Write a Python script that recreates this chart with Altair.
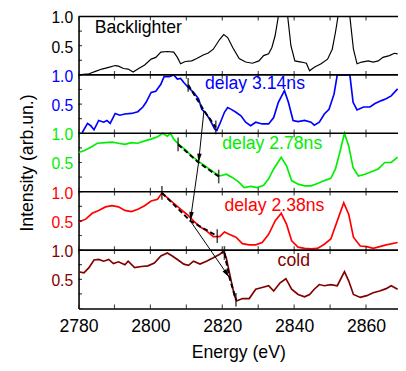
import math
import altair as alt
import pandas as pd

# ---------------- data ----------------
# Backlighter (top panel)
bl_e = [2780.0, 2782.9, 2784.7, 2786.5, 2788.4, 2790.2, 2791.1, 2792.5, 2793.8, 2795.2, 2796.5, 2798.4,
        2800.2, 2801.5, 2802.9, 2804.7, 2806.5, 2807.5, 2808.4, 2809.7, 2811.5, 2812.9, 2814.7, 2816.1,
        2817.5, 2819.3, 2820.4, 2821.5, 2822.9, 2824.7, 2826.5, 2828.4, 2830.2, 2831.5, 2832.9, 2833.8,
        2834.7, 2835.6, 2837.0, 2838.2, 2839.1, 2840.2, 2842.0, 2843.4, 2844.3, 2845.6, 2847.5, 2849.3,
        2850.6, 2851.5, 2852.2, 2853.8, 2855.5, 2856.5, 2857.5, 2858.8, 2860.6, 2862.0, 2863.4, 2864.7,
        2866.5, 2867.9, 2868.8]
bl_v = [0.00, 0.02, 0.06, 0.10, 0.13, 0.16, 0.15, 0.11, 0.10, 0.05, 0.10, 0.17,
        0.27, 0.30, 0.39, 0.40, 0.39, 0.30, 0.19, 0.23, 0.24, 0.28, 0.34, 0.375,
        0.44, 0.61, 0.69, 0.64, 0.47, 0.28, 0.22, 0.20, 0.24, 0.33, 0.36, 0.47,
        0.67, 1.00, 1.90, 1.00, 0.50, 0.24, 0.22, 0.20, 0.07, 0.13, 0.19, 0.27,
        0.44, 0.73, 1.00, 2.00, 1.00, 0.44, 0.19, 0.22, 0.24, 0.22, 0.24, 0.30,
        0.33, 0.37, 0.36]

# delay 3.14 ns
d314_e = [2781.0, 2782.5, 2783.4, 2784.3, 2785.6, 2787.0, 2787.9, 2788.8, 2790.2, 2791.5, 2792.9, 2794.7,
          2796.5, 2797.9, 2798.8, 2800.2, 2801.5, 2802.9, 2803.8, 2805.2, 2806.5, 2807.5, 2808.4, 2809.3,
          2810.6, 2812.0, 2813.4, 2814.3, 2815.2, 2816.5, 2817.9, 2818.5, 2819.3, 2820.6, 2821.5, 2822.5,
          2823.8, 2825.2, 2826.5, 2827.9, 2829.3, 2831.1, 2832.9, 2834.3, 2835.6, 2837.3, 2838.4, 2839.7,
          2841.1, 2842.9, 2844.7, 2845.6, 2847.0, 2848.4, 2849.7, 2851.1, 2852.0, 2853.5, 2855.5, 2856.4,
          2857.5, 2859.3, 2861.1, 2862.5, 2864.3, 2865.6, 2867.0, 2868.8]
d314_v = [0.01, 0.17, 0.13, 0.06, 0.22, 0.19, 0.22, 0.17, 0.34, 0.31, 0.33, 0.34,
          0.37, 0.45, 0.53, 0.70, 0.72, 0.84, 0.97, 0.97, 1.00, 0.93, 0.94, 0.87,
          0.78, 0.70, 0.59, 0.41, 0.36, 0.24, 0.07, 0.05, 0.16, 0.36, 0.44, 0.41,
          0.36, 0.30, 0.19, 0.13, 0.19, 0.16, 0.16, 0.27, 0.53, 0.73, 0.53, 0.22,
          0.20, 0.22, 0.19, 0.14, 0.19, 0.33, 0.41, 0.67, 1.00, 1.90, 1.00, 0.53,
          0.40, 0.45, 0.45, 0.51, 0.56, 0.59, 0.64, 0.76]

# delay 2.78 ns
d278_e = [2780.0, 2781.5, 2783.4, 2785.2, 2787.5, 2789.3, 2791.1, 2792.9, 2794.7, 2796.5, 2798.4, 2800.2,
          2802.0, 2803.4, 2804.7, 2805.6, 2806.5, 2807.9, 2809.7, 2811.5, 2813.4, 2815.2, 2817.5, 2819.3,
          2821.1, 2822.9, 2824.7, 2826.1, 2827.9, 2829.7, 2831.5, 2832.9, 2834.3, 2836.4, 2837.9, 2839.3,
          2841.1, 2842.9, 2844.7, 2846.5, 2848.4, 2850.2, 2851.5, 2852.7, 2854.0, 2855.2, 2856.4, 2857.9,
          2859.7, 2861.5, 2863.4, 2865.2, 2867.0, 2868.8]
d278_v = [0.67, 0.70, 0.76, 0.83, 0.84, 0.85, 0.83, 0.81, 0.84, 0.83, 0.87, 0.90,
          0.94, 1.00, 0.95, 1.00, 0.90, 0.81, 0.72, 0.61, 0.52, 0.44, 0.34, 0.27,
          0.30, 0.24, 0.16, 0.07, 0.09, 0.07, 0.11, 0.22, 0.39, 0.59, 0.44, 0.19,
          0.13, 0.10, 0.10, 0.14, 0.19, 0.23, 0.39, 0.67, 1.00, 0.78, 0.41, 0.27,
          0.30, 0.34, 0.39, 0.50, 0.50, 0.59]

# delay 2.38 ns
d238_e = [2780.0, 2782.0, 2783.8, 2785.6, 2787.5, 2789.3, 2791.1, 2792.9, 2794.7, 2796.5, 2798.4, 2800.2,
          2802.0, 2803.2, 2804.7, 2806.5, 2808.4, 2810.2, 2812.0, 2813.8, 2815.6, 2817.5, 2819.3, 2820.6,
          2821.9, 2823.8, 2825.6, 2827.5, 2829.3, 2831.1, 2832.9, 2834.7, 2836.4, 2837.9, 2839.3, 2841.1,
          2842.9, 2844.7, 2846.5, 2848.4, 2850.2, 2852.0, 2853.8, 2855.2, 2856.5, 2858.4, 2860.2, 2862.0,
          2863.8, 2865.6, 2868.8]
d238_v = [0.48, 0.53, 0.63, 0.68, 0.74, 0.76, 0.74, 0.68, 0.66, 0.70, 0.76, 0.84,
          0.87, 0.98, 0.90, 0.80, 0.70, 0.61, 0.50, 0.40, 0.33, 0.23, 0.23, 0.31,
          0.27, 0.22, 0.11, 0.09, 0.09, 0.13, 0.27, 0.50, 0.63, 0.44, 0.16, 0.05,
          0.03, 0.02, 0.03, 0.10, 0.19, 0.50, 0.81, 0.61, 0.22, 0.07, 0.06, 0.03,
          0.06, 0.09, 0.13]

# cold
cold_e = [2780.0, 2781.5, 2782.9, 2784.3, 2785.6, 2787.0, 2788.4, 2789.7, 2791.1, 2792.9, 2793.8, 2795.6,
          2797.5, 2799.3, 2801.1, 2802.9, 2804.7, 2806.1, 2807.5, 2809.3, 2810.6, 2812.0, 2813.8, 2815.6,
          2817.5, 2819.3, 2820.4, 2821.1, 2822.0, 2822.7, 2823.4, 2824.0, 2825.6, 2827.5, 2829.3, 2831.1,
          2832.9, 2834.3, 2836.1, 2837.7, 2839.3, 2841.1, 2842.9, 2844.3, 2845.6, 2847.0, 2848.4, 2850.2,
          2852.0, 2854.0, 2855.2, 2856.5, 2858.4, 2860.2, 2862.0, 2863.8, 2865.6, 2867.0, 2868.8]
cold_v = [0.63, 0.61, 0.70, 0.83, 0.84, 0.81, 0.84, 0.77, 0.80, 0.75, 0.81, 0.70,
          0.72, 0.73, 0.78, 0.90, 0.95, 0.90, 0.84, 0.76, 0.74, 0.81, 0.76, 0.81,
          0.87, 0.93, 0.98, 0.87, 0.61, 0.41, 0.22, 0.13, 0.17, 0.17, 0.33, 0.36,
          0.39, 0.30, 0.44, 0.51, 0.33, 0.24, 0.20, 0.24, 0.33, 0.41, 0.39, 0.41,
          0.39, 0.63, 0.47, 0.24, 0.19, 0.22, 0.27, 0.30, 0.34, 0.39, 0.33]

series_names = ["Backlighter", "delay 3.14ns", "delay 2.78ns", "delay 2.38ns", "cold"]
series_e = [bl_e, d314_e, d278_e, d238_e, cold_e]
series_v = [bl_v, d314_v, d278_v, d238_v, cold_v]
series_offset = [4, 3, 2, 1, 0]
series_color = ["#000000", "#0000ff", "#00ee00", "#ff0000", "#800000"]
series_width = [1.2, 1.7, 1.7, 1.7, 1.7]

# label positions (energy, value within panel)
label_e = [2784.5, 2815.2, 2820.0, 2820.6, 2835.4]
label_v = [0.80, 0.84, 0.81, 0.76, 0.81]

# absorption-edge fits (panel offset, start, middle, end)
fit_offset = [3, 2, 1, 0]
fit_e0 = [2810.5, 2807.7, 2803.2, 2820.6]
fit_v0 = [0.83, 0.81, 0.98, 0.95]
fit_em = [2814.9, 2813.4, 2811.1, 2822.0]
fit_vm = [0.39, 0.50, 0.50, 0.53]
fit_e1 = [2818.2, 2819.0, 2818.6, 2823.8]
fit_v1 = [0.10, 0.26, 0.24, 0.15]

# arrow chain through edge midpoints: cold -> 2.38 -> 2.78 -> 3.14
arrow_order = [3, 2, 1, 0]   # indices into fit lists

x_ticks = [2780, 2790, 2800, 2810, 2820, 2830, 2840, 2850, 2860]
x_labels = [2780, 2800, 2820, 2840, 2860]

# ---------------- layout / style ----------------
E_MIN, E_MAX = 2780, 2868.9
W, H = 326, 298
FONT = "Liberation Sans"

xscale = alt.Scale(domain=[E_MIN, E_MAX], nice=False, zero=False)
yscale = alt.Scale(domain=[0, 5], nice=False, zero=False)

label_color = {
    "condition": [
        {"test": "datum.value > 4.1", "value": series_color[0]},
        {"test": "datum.value > 3.1", "value": series_color[1]},
        {"test": "datum.value > 2.1", "value": series_color[2]},
        {"test": "datum.value > 1.1", "value": series_color[3]},
    ],
    "value": series_color[4],
}

X = alt.X("E:Q", scale=xscale, axis=alt.Axis(
    title="Energy (eV)", values=x_labels, format="d", grid=False, ticks=False, tickSize=0,
    domain=True, domainColor="black", domainWidth=1.6, labelFlush=False,
    labelFont=FONT, labelFontSize=18, labelColor="black", labelPadding=9,
    titleFont=FONT, titleFontSize=18, titleFontWeight="normal", titleColor="black",
    titleY=45, titleBaseline="middle"))
Y = alt.Y("Y:Q", scale=yscale, axis=alt.Axis(
    title="Intensity (arb.un.)", values=[0.5, 1, 1.5, 2, 2.5, 3, 3.5, 4, 4.5, 5],
    labelExpr="datum.value % 1 == 0 ? '1.0' : '0.5'", labelColor=label_color,
    grid=False, ticks=False, tickSize=0, domain=True, domainColor="black", domainWidth=1.6,
    labelFont=FONT, labelFontSize=16, labelPadding=6, labelOffset=1.5, labelFlush=False,
    titleFont=FONT, titleFontSize=18, titleFontWeight="normal", titleColor="black",
    titleX=-52, titleBaseline="middle"))

layers = []

# spectra
for name, es, vs, off, col, sw in zip(series_names, series_e, series_v, series_offset,
                                      series_color, series_width):
    df = pd.DataFrame({"E": es, "v": vs})
    df["off"] = off
    layers.append(
        alt.Chart(df).transform_calculate(Y="datum.off + min(datum.v, 1)")
        .mark_line(color=col, strokeWidth=sw, clip=True, interpolate="linear")
        .encode(x=X, y=Y)
    )

# panel separators and top border
sep_df = pd.DataFrame({"Y": [1, 2, 3, 4, 5]})
layers.append(alt.Chart(sep_df).mark_rule(color="black", strokeWidth=1.6).encode(y=Y))

# inward ticks on the energy axis at every border line
xt = pd.DataFrame([{"E": e, "Y": y} for e in x_ticks for y in range(6)])
layers.append(alt.Chart(xt).mark_tick(orient="vertical", size=8, thickness=1.2,
                                      color="black", clip=True).encode(x=X, y=Y))
# inward ticks on the intensity axis
yt = pd.DataFrame({"E": [E_MIN] * 21, "Y": [i * 0.25 for i in range(21)]})
layers.append(alt.Chart(yt).mark_tick(orient="horizontal", size=7, thickness=1.2,
                                      color="black", clip=True).encode(x=X, y=Y))

# dashed edge fits
rows = []
for i, off in enumerate(fit_offset):
    for e, v in [(fit_e0[i], fit_v0[i]), (fit_em[i], fit_vm[i]), (fit_e1[i], fit_v1[i])]:
        rows.append({"E": e, "Y": off + v, "fit": i})
fit_df = pd.DataFrame(rows)
layers.append(alt.Chart(fit_df).mark_line(color="black", strokeWidth=2, strokeDash=[5, 3])
              .encode(x=X, y=Y, detail="fit:N"))

# end markers
mk = []
for i, off in enumerate(fit_offset):
    mk.append({"E": fit_e0[i], "Y": off + fit_v0[i]})
    mk.append({"E": fit_e1[i], "Y": off + fit_v1[i]})
layers.append(alt.Chart(pd.DataFrame(mk)).mark_tick(orient="vertical", size=14, thickness=1.6,
                                                    color="black").encode(x=X, y=Y))

# arrows between edge midpoints
px_e = W / (E_MAX - E_MIN)
px_y = H / 5.0
arr = []
for a, b in zip(arrow_order[:-1], arrow_order[1:]):
    e1, y1 = fit_em[a], fit_offset[a] + fit_vm[a]
    e2, y2 = fit_em[b], fit_offset[b] + fit_vm[b]
    ang = math.degrees(math.atan2((e1 - e2) * px_e, (y1 - y2) * px_y)) % 360
    arr.append({"E": e2, "Y": y2, "E2": e1, "Y2": y1, "ang": ang})
arr_df = pd.DataFrame(arr)
layers.append(alt.Chart(arr_df).mark_rule(color="black", strokeWidth=1)
              .encode(x=X, y=Y, x2="E2:Q", y2="Y2:Q"))
head_df = arr_df[["E2", "Y2", "ang"]].rename(columns={"E2": "E", "Y2": "Y"})
layers.append(alt.Chart(head_df).mark_point(
    shape="M0,0L-0.4,1.6L0.4,1.6Z", filled=True, size=130, color="black", opacity=1, strokeWidth=0)
    .encode(x=X, y=Y, angle=alt.Angle("ang:Q", scale=None)))

# series labels
lab_df = pd.DataFrame({"E": label_e,
                       "Y": [o + v for o, v in zip(series_offset, label_v)],
                       "txt": series_names, "col": series_color})
layers.append(alt.Chart(lab_df).mark_text(align="left", baseline="middle", fontSize=18, font=FONT)
              .encode(x=X, y=Y, text="txt:N", color=alt.Color("col:N", scale=None)))

chart = alt.layer(*layers).properties(
    width=W, height=H,
    autosize=alt.AutoSizeParams(type="none"),
    padding={"left": 72, "top": 5, "right": 0, "bottom": 55},
).configure_view(stroke=None)

chart.save("out.html", embed_options={"renderer": "svg", "actions": False})
